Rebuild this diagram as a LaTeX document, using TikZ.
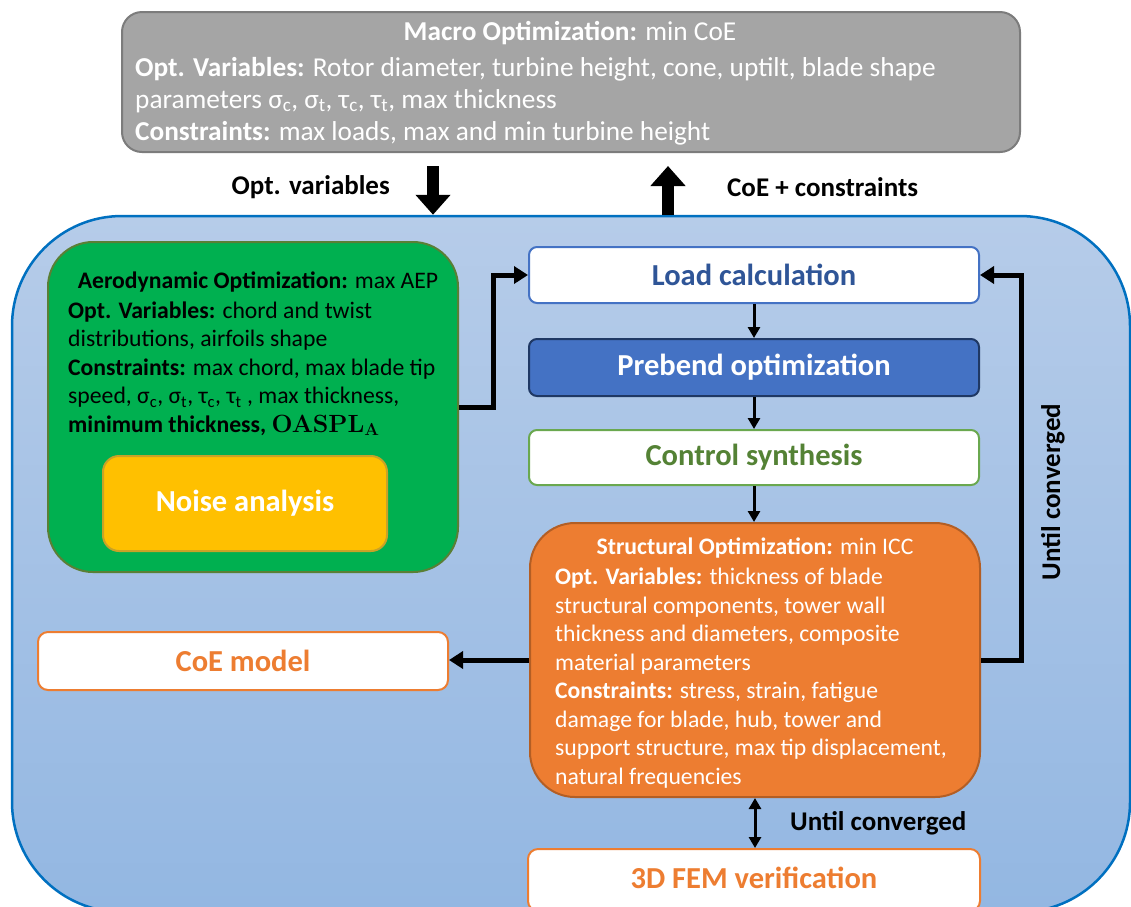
\documentclass[tikz,border=0pt]{standalone}
\usepackage[no-math]{fontspec}
\setmainfont{Carlito}
\usetikzlibrary{arrows.meta,calc}

\definecolor{macrofill}{HTML}{A5A5A5}
\definecolor{macroline}{HTML}{7C7C7C}
\definecolor{looptop}{HTML}{B6CCE9}
\definecolor{loopbot}{HTML}{93B7E2}
\definecolor{loopline}{HTML}{0070C0}
\definecolor{aerofill}{HTML}{00B050}
\definecolor{aeroline}{HTML}{5A7F35}
\definecolor{noisefill}{HTML}{FFC000}
\definecolor{noiseline}{HTML}{C9A227}
\definecolor{loadline}{HTML}{4472C4}
\definecolor{loadtext}{HTML}{2F5597}
\definecolor{prebendfill}{HTML}{4472C4}
\definecolor{prebendline}{HTML}{1F3864}
\definecolor{ctrlline}{HTML}{6AA84F}
\definecolor{ctrltext}{HTML}{548235}
\definecolor{structfill}{HTML}{ED7D31}
\definecolor{structline}{HTML}{B35E24}
\definecolor{orangetext}{HTML}{ED7D31}

\tikzset{
  box/.style={rectangle, line width=2pt, inner sep=0pt},
  titletext/.style={font=\fontsize{30.5}{34}\selectfont\bfseries},
  bodytext/.style={font=\fontsize{23.7}{28.45}\selectfont, inner sep=0pt},
  macrotext/.style={font=\fontsize{27.3}{32}\selectfont, inner sep=0pt, text=white},
  labeltext/.style={font=\fontsize{27}{30}\selectfont\bfseries, inner sep=0pt},
  bigconn/.style={line width=5pt, -{Triangle[length=14pt,width=17pt]}},
  smallconn/.style={line width=3pt, -{Triangle[length=11pt,width=12pt]}},
  blockarrow/.style={line width=12pt, -{Triangle[length=20pt,width=34pt]}},
}

\begin{document}
\begin{tikzpicture}[x=1pt,y=-1pt]
\useasboundingbox (0,0) rectangle (1131,906);
\clip (0,0) rectangle (1131,906);
\fill[white] (0,0) rectangle (1131,906);

% top-level optimizer
\node[box, draw=macroline, fill=macrofill, rounded corners=20pt,
      minimum width=898pt, minimum height=140pt] (macro) at (571,82) {};
\node[macrotext] (macrotitle) at (570,33) {\textbf{Macro Optimization:} min CoE};
% multi-line nodes: the base anchor sits on the last line
\node[macrotext, anchor=base west, align=left] (macrobody) at (135,140)
  {\textbf{Opt. Variables:} Rotor diameter, turbine height, cone, uptilt, blade shape\\
   parameters σ\textsubscript{c}, σ\textsubscript{t}, τ\textsubscript{c}, τ\textsubscript{t}, max thickness\\
   \textbf{Constraints:} max loads, max and min turbine height};

% inner loop container
\node[shade, top color=looptop, bottom color=loopbot, draw=loopline, line width=2.5pt,
      rounded corners=110pt, minimum width=1118pt, minimum height=696pt,
      inner sep=0pt] (loop) at (571,564) {};

% aerodynamic optimization
\node[box, draw=aeroline, fill=aerofill, rounded corners=45pt,
      minimum width=410pt, minimum height=330pt] (aero) at (253,407) {};
\node[bodytext] (aerotitle) at (258,282) {\textbf{Aerodynamic Optimization:} max AEP};
\node[bodytext, anchor=base west, align=left] (aerobody) at (68,432)
  {\textbf{Opt. Variables:} chord and twist\\
   distributions, airfoils shape\\
   \textbf{Constraints:} max chord, max blade tip\\
   speed, σ\textsubscript{c}, σ\textsubscript{t}, τ\textsubscript{c}, τ\textsubscript{t} , max thickness,\\
   \textbf{minimum thickness, $\mathbf{OASPL_{A}}$}};
\node[box, draw=noiseline, fill=noisefill, rounded corners=16pt,
      minimum width=284pt, minimum height=95pt, titletext, text=white] (noise) at (245,503.5)
  {Noise analysis};

% loop chain
\node[box, draw=loadline, fill=white, rounded corners=8pt,
      minimum width=450pt, minimum height=56pt, titletext, text=loadtext] (load) at (754,275)
  {Load calculation};
\node[box, draw=prebendline, fill=prebendfill, rounded corners=8pt,
      minimum width=450pt, minimum height=57pt, titletext, text=white] (prebend) at (754,367.5)
  {\raisebox{-2pt}{Prebend optimization}};
\node[box, draw=ctrlline, fill=white, rounded corners=8pt,
      minimum width=450pt, minimum height=55pt, titletext, text=ctrltext] (control) at (754,457.5)
  {Control synthesis};

% structural optimization
\node[box, draw=structline, fill=structfill, rounded corners=45pt,
      minimum width=450pt, minimum height=274pt] (struct) at (755,660) {};
\node[bodytext, text=white] (structtitle) at (755,548) {\textbf{Structural Optimization:} min ICC};
\node[bodytext, text=white, anchor=base west, align=left] (structbody) at (555,784)
  {\textbf{Opt. Variables:} thickness of blade\\
   structural components, tower wall\\
   thickness and diameters, composite\\
   material parameters\\
   \textbf{Constraints:} stress, strain, fatigue\\
   damage for blade, hub, tower and\\
   support structure, max tip displacement,\\
   natural frequencies};

\node[box, draw=orangetext, fill=white, rounded corners=10pt,
      minimum width=410pt, minimum height=58pt, titletext, text=orangetext] (coe) at (243,661)
  {CoE model};
\node[box, draw=orangetext, fill=white, rounded corners=10pt,
      minimum width=452pt, minimum height=62pt, titletext, text=orangetext,
      text depth=0pt] (fem) at (754,880)
  {\raisebox{5pt}{3D FEM verification}};

% exchange with the macro level
\coordinate (dnx) at (433,0);
\coordinate (upx) at (668,0);
\draw[blockarrow] ([yshift=-13pt]macro.south -| dnx) -- (dnx |- loop.north);
\draw[blockarrow] (upx |- loop.north) -- ([yshift=-13pt]macro.south -| upx);
\node[labeltext, anchor=east] (optlabel) at (390,187) {Opt. variables};
\node[labeltext, anchor=west] (coelabel) at (727,187) {CoE + constraints};

% connectors
\draw[bigconn] (aero.east) -- ++(34,0) |- (load.west);
\draw[smallconn] (load.south) -- (prebend.north);
\draw[smallconn] (prebend.south) -- (control.north);
\draw[smallconn] (control.south) -- (control.south |- struct.north);
\draw[bigconn] (struct.east) -- ++(40,0) coordinate (loopcorner) |- (load.east);
\draw[bigconn] (struct.west) -- (struct.west -| coe.east);
\draw[line width=3pt, {Triangle[length=11pt,width=12pt]}-{Triangle[length=11pt,width=12pt]}]
  (struct.south) -- (struct.south |- fem.north);

\node[labeltext, rotate=90] (untilouter) at (1053,492) {Until converged};
\node[labeltext, anchor=west] (untilinner) at (790,823) {Until converged};
\end{tikzpicture}
\end{document}
